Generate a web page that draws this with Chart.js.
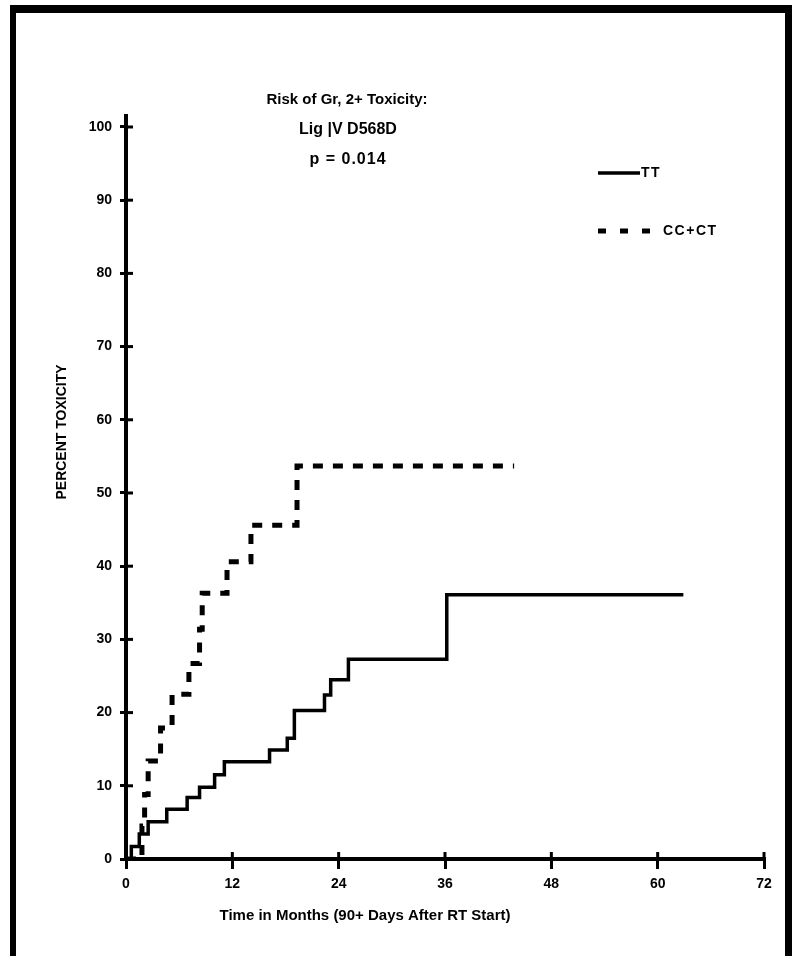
<!DOCTYPE html>
<html>
<head>
<meta charset="utf-8">
<script src="https://cdn.jsdelivr.net/npm/chart.js@4.4.1/dist/chart.umd.min.js"></script>
<style>
body { margin: 0; background: #fff; }
#wrap { position: relative; width: 792px; height: 956px; overflow: hidden; }
#frame { position: absolute; left: 10px; top: 5px; width: 769px; height: 960px; border-style: solid; border-color: #000; border-width: 8px 7px 0 6px; }
#myChart { position: absolute; left: 0; top: 0; }
</style>
</head>
<body>
<div id="wrap">
<div id="frame"></div>
<canvas id="myChart" width="792" height="956"></canvas>
</div>
<script>
// series names
var seriesNames = ['TT', 'CC+CT'];

// TT (solid): event month, cumulative % toxicity
var ttMonths  = [0, 0.6, 1.5, 2.5, 4.6, 6.9, 8.3, 10.0, 11.1, 16.2, 18.2, 19.0, 22.4, 23.1, 25.1, 36.2, 62.9];
var ttPercent = [0, 1.7, 3.4, 5.1, 6.8, 8.4, 9.8, 11.5, 13.3, 14.9, 16.5, 20.3, 22.4, 24.5, 27.3, 36.1, 36.1];

// CC+CT (dashed)
var ccMonths  = [0, 1.8, 2.1, 2.5, 3.9, 5.2, 7.1, 8.3, 8.6, 11.4, 14.1, 19.3, 43.8];
var ccPercent = [0, 4.5, 8.8, 13.4, 17.9, 22.5, 26.7, 31.4, 36.3, 40.6, 45.6, 53.7, 53.7];

var xTicks = [0, 12, 24, 36, 48, 60, 72];
var yTicks = [0, 10, 20, 30, 40, 50, 60, 70, 80, 90, 100];

var titleLines = ['Risk of Gr, 2+ Toxicity:', 'Lig |V D568D', 'p = 0.014'];
var xTitle = 'Time in Months (90+ Days After RT Start)';
var yTitle = 'PERCENT TOXICITY';

function toPoints(xs, ys) {
    var pts = [];
    for (var i in xs) {
        pts.push({ x: xs[i], y: ys[i] });
    }
    return pts;
}

var fontFamily = '"Liberation Sans", Arial, sans-serif';

// inner half of the tick marks, titles and legend
var decorPlugin = {
    id: 'decor',
    afterDraw: function (chart) {
        var ctx = chart.ctx;
        var xs = chart.scales.x, ys = chart.scales.y;
        var area = chart.chartArea;
        ctx.save();
        ctx.strokeStyle = '#000';
        ctx.lineWidth = 3;
        xTicks.forEach(function (v) {
            var px = xs.getPixelForValue(v);
            ctx.beginPath();
            ctx.moveTo(px, area.bottom);
            ctx.lineTo(px, area.bottom - 7);
            ctx.stroke();
        });
        yTicks.forEach(function (v) {
            var py = ys.getPixelForValue(v);
            ctx.beginPath();
            ctx.moveTo(area.left, py);
            ctx.lineTo(area.left + 7, py);
            ctx.stroke();
        });

        ctx.fillStyle = '#000';
        ctx.textAlign = 'center';
        ctx.textBaseline = 'middle';
        ctx.font = 'bold 15px ' + fontFamily;
        ctx.fillText(titleLines[0], 347, 100);
        ctx.font = 'bold 16px ' + fontFamily;
        ctx.fillText(titleLines[1], 348, 130);
        ctx.letterSpacing = '1px';
        ctx.fillText(titleLines[2], 348, 160);
        ctx.letterSpacing = '0px';

        ctx.font = 'bold 15px ' + fontFamily;
        ctx.fillText(xTitle, 365, 916);

        ctx.save();
        ctx.font = 'bold 14px ' + fontFamily;
        ctx.translate(62, 432);
        ctx.rotate(-Math.PI / 2);
        ctx.fillText(yTitle, 0, 0);
        ctx.restore();

        // legend
        ctx.textAlign = 'left';
        ctx.font = 'bold 14px ' + fontFamily;
        ctx.letterSpacing = '1.5px';
        chart.data.datasets.forEach(function (ds, i) {
            var ly = 173 + i * 58;
            ctx.save();
            ctx.lineWidth = ds.borderWidth;
            ctx.setLineDash(i === 0 ? [] : [8, 14]);
            ctx.beginPath();
            ctx.moveTo(598, ly);
            ctx.lineTo(i === 0 ? 640 : 652, ly);
            ctx.stroke();
            ctx.restore();
            ctx.fillText(ds.label, i === 0 ? 641 : 663, ly);
        });
        ctx.letterSpacing = '0px';
        ctx.restore();
    }
};

new Chart('myChart', {
    type: 'line',
    data: {
        datasets: [{
            label: seriesNames[0],
            data: toPoints(ttMonths, ttPercent),
            stepped: 'before',
            borderColor: '#000',
            borderWidth: 3.5,
            pointRadius: 0,
            fill: false
        }, {
            label: seriesNames[1],
            data: toPoints(ccMonths, ccPercent),
            stepped: 'before',
            borderColor: '#000',
            borderWidth: 5,
            borderDash: [10, 10],
            borderCapStyle: 'butt',
            pointRadius: 0,
            fill: false
        }]
    },
    options: {
        responsive: false,
        animation: false,
        layout: { padding: { top: 116, right: 28, left: 0, bottom: 0 } },
        plugins: {
            legend: { display: false },
            title: { display: false },
            tooltip: { enabled: false }
        },
        scales: {
            x: {
                type: 'linear',
                min: 0,
                max: 72,
                afterBuildTicks: function (scale) {
                    scale.ticks = xTicks.map(function (v) { return { value: v }; });
                },
                afterFit: function (scale) { scale.height = 97; },
                ticks: {
                    color: '#000',
                    padding: 7,
                    maxRotation: 0,
                    font: { family: fontFamily, size: 14, weight: 'bold' }
                },
                grid: { drawOnChartArea: false, color: '#000', lineWidth: 3, tickLength: 10 },
                border: { color: '#000', width: 4 }
            },
            y: {
                type: 'linear',
                min: 0,
                max: 101.5,
                afterBuildTicks: function (scale) {
                    scale.ticks = yTicks.map(function (v) { return { value: v }; });
                },
                afterFit: function (scale) { scale.width = 126; },
                ticks: {
                    color: '#000',
                    padding: 8,
                    font: { family: fontFamily, size: 14, weight: 'bold' }
                },
                grid: { drawOnChartArea: false, color: '#000', lineWidth: 3, tickLength: 6 },
                border: { color: '#000', width: 4 }
            }
        }
    },
    plugins: [decorPlugin]
});
</script>
</body>
</html>
